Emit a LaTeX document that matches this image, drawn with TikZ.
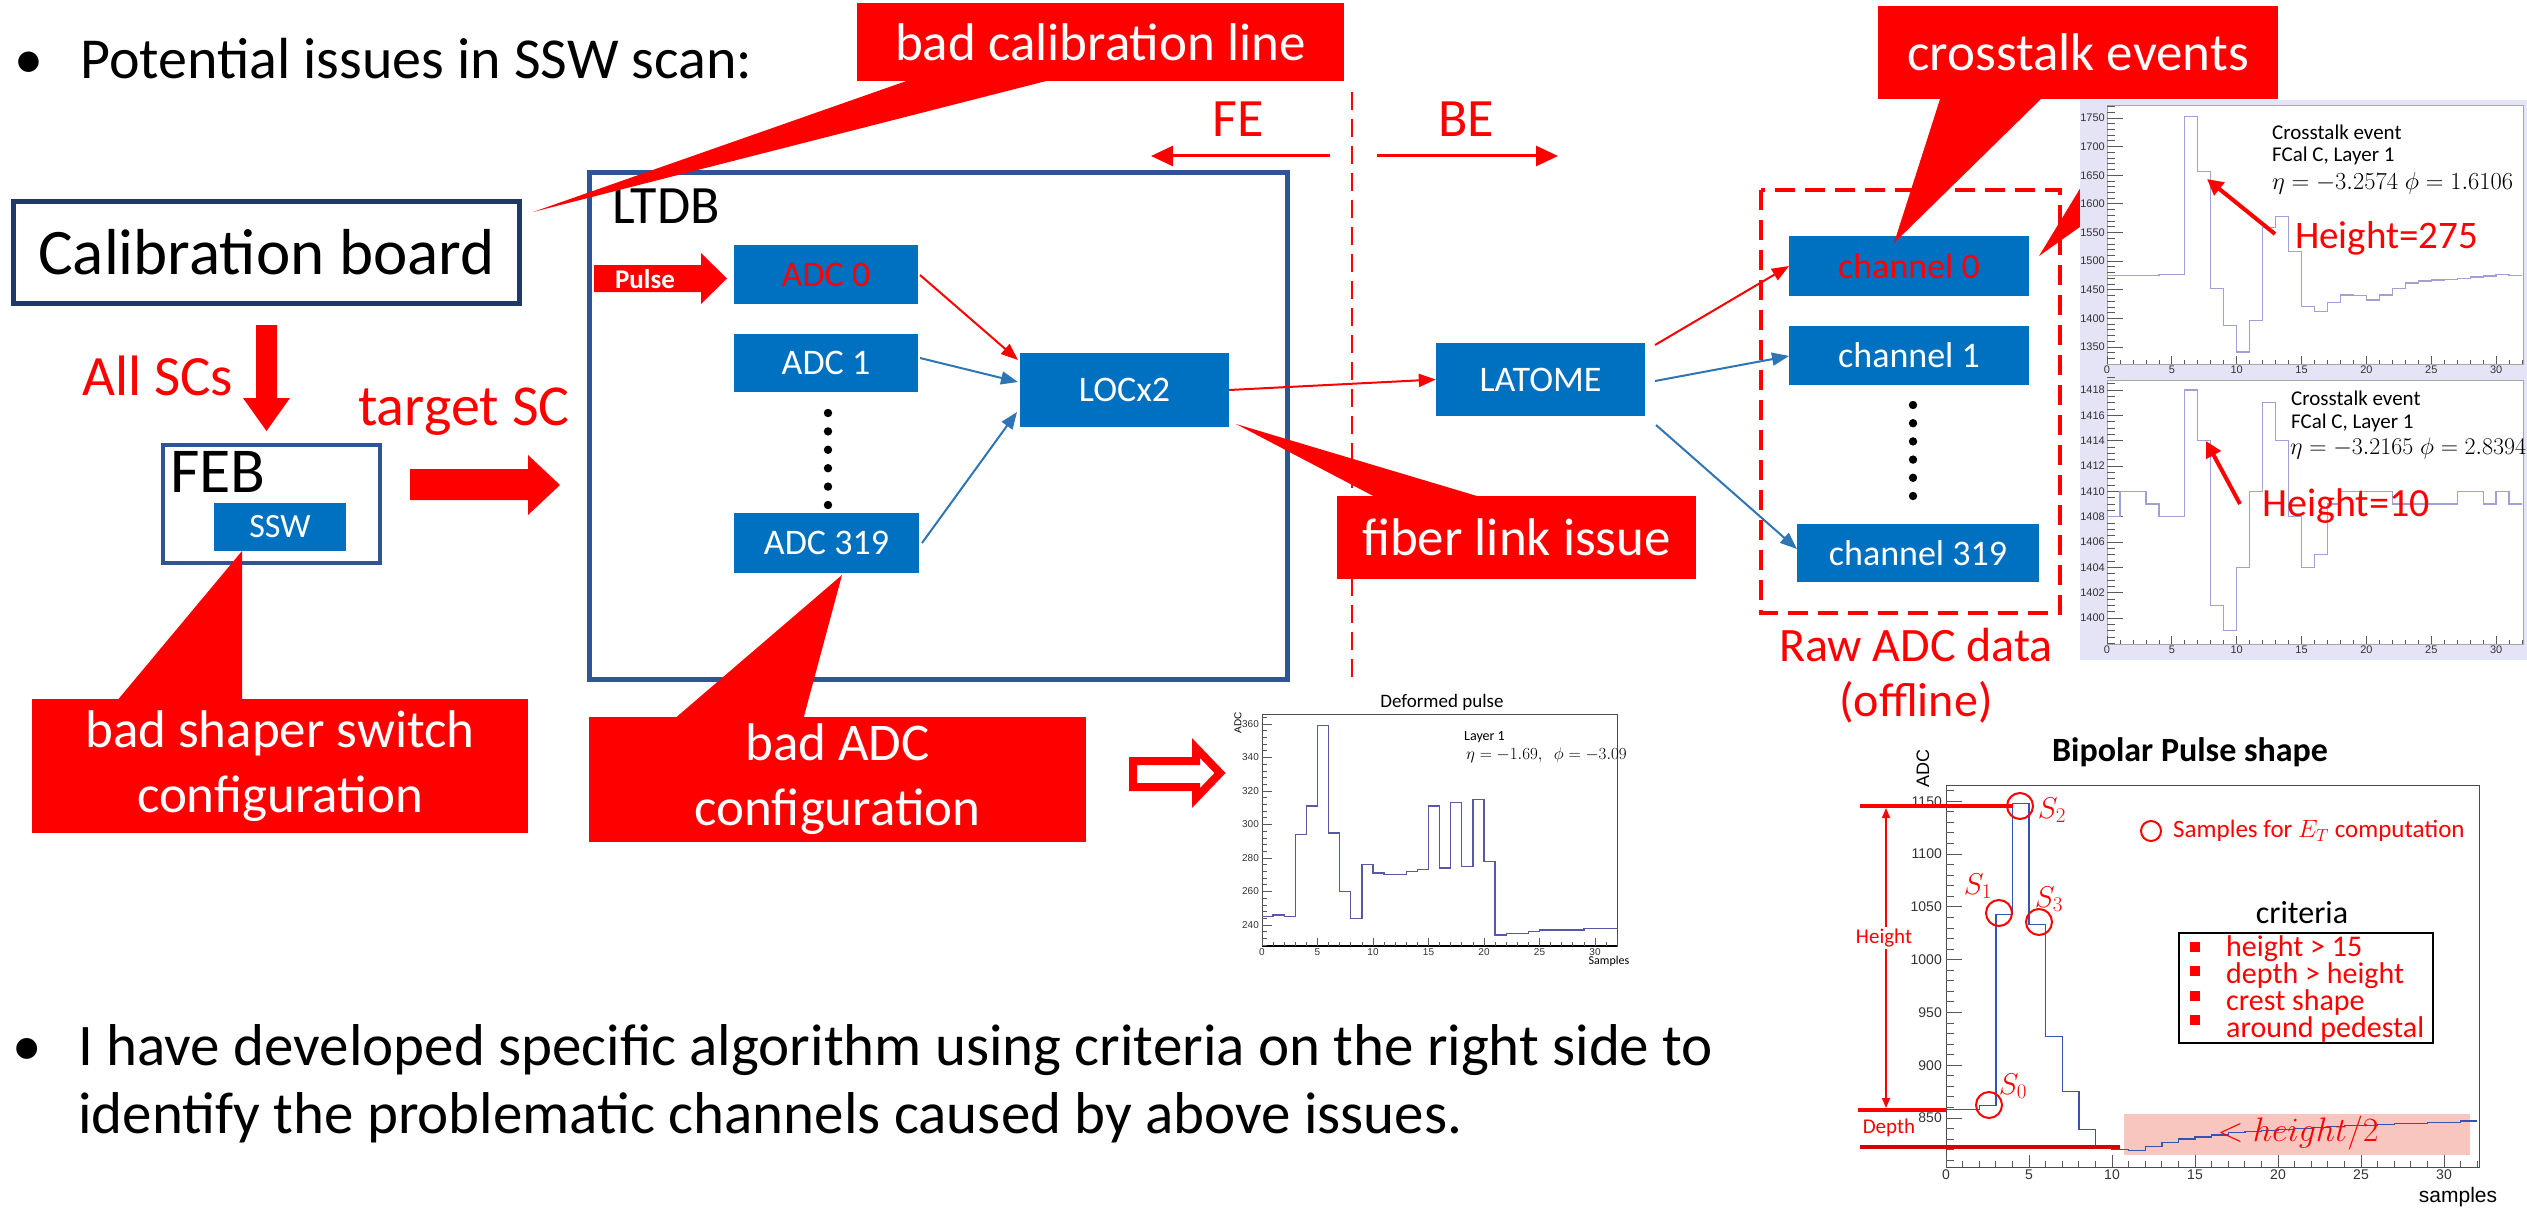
\RequirePackage{fix-cm}
\documentclass[tikz,border=0pt]{standalone}
\usepackage{fontspec}
\setmainfont{Carlito}
\newfontfamily\pf{Liberation Sans}
\usetikzlibrary{arrows.meta}
\definecolor{boxblue}{HTML}{0070C0}
\definecolor{navyb}{HTML}{1F3864}
\definecolor{frameblue}{HTML}{2F5597}
\definecolor{arrblue}{HTML}{2E75B6}
\definecolor{lav}{HTML}{E4E4F6}
\definecolor{histc}{HTML}{A0A0D4}
\definecolor{histd}{HTML}{5858A8}
\definecolor{histb}{HTML}{3355B0}
\definecolor{pinkbg}{HTML}{F8C6BE}
\newcommand\fsz[1]{\fontsize{#1}{#1}\selectfont}
\tikzset{
 bbox/.style={fill=boxblue, text=white, inner sep=0pt, font=\fsz{36}},
 callout/.style={fill=red, text=white, inner sep=0pt, align=center, font=\fsz{53}},
 rarr/.style={draw=red, line width=2pt, -{Triangle[length=17pt,width=13pt]}},
 barr/.style={draw=arrblue, line width=2pt, -{Triangle[length=17pt,width=13pt]}},
 tk/.style={draw=black!65, line width=0.8pt},
 ylab/.style={anchor=east, inner sep=1pt, text=black!80},
 xlab/.style={anchor=north, inner sep=1pt, text=black!80},
 redtxt/.style={text=red, inner sep=0pt},
 plaintxt/.style={inner sep=0pt},
}
\begin{document}
\begin{tikzpicture}[x=1pt,y=-1pt]
\useasboundingbox[fill=white] (0,0) rectangle (2527,1212);

% ---------- bullet texts ----------
\node[plaintxt, anchor=base west, font=\fsz{58}] (bul1) at (14,79) {•};
\node[plaintxt, anchor=base west, font=\fsz{58}] (txt1) at (80,79) {Potential issues in SSW scan:};
\node[plaintxt, anchor=base west, font=\fsz{59}] (bul2) at (12,1065) {•};
\node[plaintxt, anchor=base west, font=\fsz{59}] (txt2) at (78,1065) {I have developed specific algorithm using criteria on the right side to};
\node[plaintxt, anchor=base west, font=\fsz{59}] (txt3) at (78,1133) {identify the problematic channels caused by above issues.};

% ---------- left part ----------
\node[draw=navyb, line width=5pt, minimum width=506pt, minimum height=102pt, inner sep=0pt, font=\fsz{65}] (cal) at (266.5,252.5) {Calibration board};
\node[redtxt, anchor=base west, font=\fsz{57}] (allsc) at (82,395) {All SCs};
\fill[red] (256,325) -- (277,325) -- (277,398) -- (290,398) -- (266.5,431) -- (243,398) -- (256,398) -- cycle;
\node[redtxt, anchor=base west, font=\fsz{58}] (tsc) at (358,425) {target SC};
\node[draw=frameblue, line width=4pt, minimum width=217pt, minimum height=118pt, inner sep=0pt] (feb) at (271.5,504) {};
\node[plaintxt, anchor=base west, font=\fsz{64}] (febl) at (170,492) {FEB};
\node[bbox, minimum width=132pt, minimum height=48pt, font=\fsz{34}] (ssw) at (280,527) {SSW};
\fill[red] (410,469) -- (528,469) -- (528,455) -- (560,485) -- (528,515) -- (528,500) -- (410,500) -- cycle;

% ---------- LTDB ----------
\node[draw=frameblue, line width=5pt, minimum width=698pt, minimum height=507pt, inner sep=0pt] (ltdb) at (938.5,426) {};
\node[plaintxt, anchor=base west, font=\fsz{54}] (ltdbl) at (612,223) {LTDB};
\fill[red] (594,265) -- (701,265) -- (701,253) -- (727,278.5) -- (701,304) -- (701,292) -- (594,292) -- cycle;
\node[plaintxt, text=white, font=\bfseries\fsz{27}] (pulse) at (645,279) {Pulse};
\node[bbox, minimum width=184pt, minimum height=59pt, text=red] (adc0) at (826,274.5) {ADC 0};
\node[bbox, minimum width=184pt, minimum height=58pt] (adc1) at (826,363) {ADC 1};
\node[bbox, minimum width=185pt, minimum height=60pt] (adc319) at (826.5,543) {ADC 319};
\foreach \i in {0,...,5} \fill (828,{413+\i*18.4}) circle (4.2);
\node[bbox, minimum width=209pt, minimum height=74pt] (locx) at (1124.5,390) {LOCx2};
\draw[rarr] (920,275) -- (1018,360);
\draw[barr] (920,358) -- (1018,382);
\draw[barr] (922,543) -- (1017,412);

% ---------- FE / BE ----------
\draw[red, line width=2.5pt, dash pattern=on 18pt off 9pt] (1352,92) -- (1352,686);
\node[redtxt, anchor=base west, font=\fsz{54}] (fe) at (1212,137) {FE};
\node[redtxt, anchor=base west, font=\fsz{54}] (be) at (1438,137) {BE};
\draw[red, line width=3pt, -{Triangle[length=22pt,width=20pt]}] (1330,156) -- (1151,156);
\draw[red, line width=3pt, -{Triangle[length=22pt,width=20pt]}] (1377,156) -- (1558,156);

% ---------- BE part ----------
\node[bbox, minimum width=209pt, minimum height=73pt] (latome) at (1540.5,379.5) {LATOME};
\draw[rarr] (locx.east) -- (latome.west);
\draw[red, line width=4pt, dash pattern=on 20pt off 10pt] (1761,190) rectangle (2060,613);
\node[bbox, minimum width=240pt, minimum height=60pt, text=red] (ch0) at (1909,266) {channel 0};
\node[bbox, minimum width=240pt, minimum height=59pt] (ch1) at (1909,355.5) {channel 1};
\node[bbox, minimum width=242pt, minimum height=58pt] (ch319) at (1918,553) {channel 319};
\foreach \i in {0,...,5} \fill (1913,{405+\i*18.2}) circle (4.2);
\draw[rarr] (1655,345) -- (1789,266);
\draw[barr] (1655,381) -- (1789,356);
\draw[barr] (1656,425) -- (1797,549);
\node[redtxt, anchor=base, font=\fsz{48}] (raw1) at (1916,661) {Raw ADC data};
\node[redtxt, anchor=base, font=\fsz{48}] (raw2) at (1916,716) {(offline)};

% ---------- callouts ----------
\node[callout, minimum width=487pt, minimum height=78pt] (cline) at (1100.5,42) {bad calibration line};
\fill[red] (533,212) -- (915,78) -- (1058,78) -- cycle;
\node[callout, minimum width=400pt, minimum height=93pt] (xtalk) at (2078,52.5) {crosstalk events};
\fill[red] (1894,243) -- (1941,96) -- (2044,96) -- cycle;
\node[callout, minimum width=359pt, minimum height=83pt] (fiber) at (1516.5,537.5) {fiber link issue};
\fill[red] (1236,424) -- (1487,499) -- (1379,499) -- cycle;
\node[callout, minimum width=496pt, minimum height=134pt, font=\fontsize{53}{65}\selectfont] (shaper) at (280,766) {bad shaper switch\\configuration};
\fill[red] (242,551) -- (116,702) -- (242,702) -- cycle;
\node[callout, minimum width=497pt, minimum height=125pt, font=\fontsize{53}{65}\selectfont] (adccfg) at (837.5,779.5) {bad ADC\\configuration};
\fill[red] (842,575) -- (673,720) -- (803,720) -- cycle;
\fill[red] (2039,256) -- (2084,182) -- (2084,224) -- cycle;

% hollow arrow
\draw[red, line width=8pt, line join=miter] (1133,761) -- (1196,761) -- (1196,748) -- (1220,773) -- (1196,798) -- (1196,787) -- (1133,787) -- cycle;

% ---------- crosstalk plots ----------
\fill[lav] (2080,100) rectangle (2527,660);
\fill[white] (2107,106) rectangle (2523,364);
\fill[white] (2107,380) rectangle (2523,644);
\draw[black!35, line width=1pt] (2107,106) rectangle (2523,364);
\draw[black!35, line width=1pt] (2107,380) rectangle (2523,644);
% top ticks
\foreach \v in {1330,1340,...,1770} \draw[tk] (2107,{375.6-0.5725*(\v-1300)}) -- ++(8,0);
\foreach \v in {1350,1400,...,1750} {\draw[tk] (2107,{375.6-0.5725*(\v-1300)}) -- ++(16,0);
  \node[ylab, font=\pf\fsz{11}] at (2106,{375.6-0.5725*(\v-1300)}) {\v};}
\foreach \s in {0,...,32} \draw[tk] ({2107+12.97*\s},364) -- ++(0,-4);
\foreach \s in {0,5,...,30} {\draw[tk] ({2107+12.97*\s},364) -- ++(0,-8);
  \node[xlab, font=\pf\fsz{11}] at ({2107+12.97*\s},365) {\s};}
% bottom ticks
\foreach \v in {1398,1398.5,...,1419} \draw[tk] (2107,{618.1-12.67*(\v-1400)}) -- ++(8,0);
\foreach \v in {1400,1402,...,1418} {\draw[tk] (2107,{618.1-12.67*(\v-1400)}) -- ++(16,0);
  \node[ylab, font=\pf\fsz{11}] at (2106,{618.1-12.67*(\v-1400)}) {\v};}
\foreach \s in {0,...,32} \draw[tk] ({2107+12.97*\s},644) -- ++(0,-4);
\foreach \s in {0,5,...,30} {\draw[tk] ({2107+12.97*\s},644) -- ++(0,-8);
  \node[xlab, font=\pf\fsz{11}] at ({2107+12.97*\s},645) {\s};}
\begin{scope}[shift={(2107pt,-375.6pt)}, x=12.97pt, y=0.5725pt]
\draw[histc, line width=1.3pt] plot[const plot] coordinates {(0,175) (1,175) (2,175) (3,175) (4,176) (5,176) (6,452) (7,357) (8,152) (9,88) (10,41) (11,96) (12,259) (13,278) (14,217) (15,121) (16,112) (17,128) (18,141) (19,140) (20,132) (21,141) (22,152) (23,162) (24,165) (25,167) (26,168) (27,170) (28,172) (29,174) (30,176) (31,175) (32,175)};
\end{scope}
\begin{scope}[shift={(2107pt,-618.1pt)}, x=12.97pt, y=12.67pt]
\draw[histc, line width=1.3pt] plot[const plot] coordinates {(0,8) (1,10) (2,10) (3,9) (4,8) (5,8) (6,18) (7,14) (8,1) (9,-1) (10,4) (11,10) (12,17) (13,14) (14,8) (15,4) (16,5) (17,9) (18,10) (19,10) (20,10) (21,10) (22,9) (23,9) (24,9) (25,9) (26,9) (27,10) (28,10) (29,9) (30,10) (31,9) (32,9)};
\end{scope}
\node[plaintxt, anchor=west, font=\fsz{21}] (x1a) at (2272,132) {Crosstalk event};
\node[plaintxt, anchor=west, font=\fsz{21}] (x1b) at (2272,156) {FCal C, Layer 1};
\node[plaintxt, anchor=west, font=\fsz{24.5}] (x1c) at (2272,183) {$\eta = -3.2574\;\phi = 1.6106$};
\node[redtxt, anchor=base west, font=\fsz{39}] (h275) at (2295,248) {Height=275};
\draw[red, line width=4pt, -{Triangle[length=16pt,width=16pt]}] (2275,234) -- (2207,179);
\node[plaintxt, anchor=west, font=\fsz{21}] (x2a) at (2291,398) {Crosstalk event};
\node[plaintxt, anchor=west, font=\fsz{21}] (x2b) at (2291,423) {FCal C, Layer 1};
\node[plaintxt, anchor=west, font=\fsz{24}] (x2c) at (2290,448) {$\eta = -3.2165\;\phi = 2.8394$};
\node[redtxt, anchor=base west, font=\fsz{40}] (h10) at (2262,516) {Height=10};
\draw[red, line width=4pt, -{Triangle[length=16pt,width=16pt]}] (2240,504) -- (2206,441);

% ---------- deformed pulse ----------
\node[plaintxt, font=\fsz{19}] (dtitle) at (1442,702) {Deformed pulse};
\draw[black!70, line width=0.8pt] (1262,714) rectangle (1617,946);
\draw[black, line width=1.4pt] (1262,946) -- (1617,946);
\foreach \v in {228,232,...,364} \draw[tk] (1262,{992-1.675*(\v-200)}) -- ++(5,0);
\foreach \v in {240,260,...,360} {\draw[tk] (1262,{992-1.675*(\v-200)}) -- ++(10,0);
  \node[ylab, font=\pf\fsz{10}] at (1260,{992-1.675*(\v-200)}) {\v};}
\foreach \s in {0,...,32} \draw[tk] ({1262+11.1*\s},946) -- ++(0,-4);
\foreach \s in {0,5,...,30} {\draw[tk] ({1262+11.1*\s},946) -- ++(0,-8);
  \node[xlab, font=\pf\fsz{10}] at ({1262+11.1*\s},947) {\s};}
\node[plaintxt, rotate=90, font=\pf\fsz{10}] (dadc) at (1238,723) {ADC};
\node[plaintxt, font=\fsz{12}] (dsam) at (1609,961) {Samples};
\node[plaintxt, anchor=west, font=\fsz{14}] (dl1) at (1464,737) {Layer 1};
\node[plaintxt, anchor=west, font=\fsz{17}] (dl2) at (1466,755) {$\eta = -1.69,\;\ \phi = -3.09$};
\begin{scope}[shift={(1262pt,-992pt)}, x=11.1pt, y=1.675pt]
\draw[histd, line width=1.3pt] plot[const plot] coordinates {(0,45) (1,46) (2,45) (3,94) (4,111) (5,159) (6,95) (7,60) (8,44) (9,76) (10,71) (11,70) (12,70) (13,72) (14,73) (15,111) (16,74) (17,113) (18,75) (19,115) (20,78) (21,34) (22,35) (23,35) (24,36) (25,37) (26,37) (27,37) (28,37) (29,38) (30,38) (31,38) (32,38)};
\end{scope}

% ---------- bipolar pulse shape ----------
\node[plaintxt, font=\bfseries\fsz{34}] (btitle) at (2190,752) {Bipolar Pulse shape};
\node[plaintxt, rotate=90, font=\pf\fsz{18}] (badc) at (1923,768) {ADC};
\fill[pinkbg] (2124,1114) rectangle (2470,1155);
\draw[black!70, line width=1pt] (1946,785) rectangle (2479,1167);
\foreach \v in {810,820,...,1160} \draw[tk] (1946,{1170.8-1.056*(\v-800)}) -- ++(8,0);
\foreach \v in {850,900,...,1150} {\draw[tk] (1946,{1170.8-1.056*(\v-800)}) -- ++(16,0);
  \node[ylab, font=\pf\fsz{14}] at (1943,{1170.8-1.056*(\v-800)}) {\v};}
\foreach \s in {0,...,32} \draw[tk] ({1946+16.6*\s},1167) -- ++(0,-6);
\foreach \s in {0,5,...,30} {\draw[tk] ({1946+16.6*\s},1167) -- ++(0,-12);
  \node[xlab, font=\pf\fsz{14}] at ({1946+16.6*\s},1169) {\s};}
\node[plaintxt, font=\pf\fsz{21}] (bsam) at (2458,1197) {samples};
\begin{scope}[shift={(1946pt,-1170.8pt)}, x=16.6pt, y=1.056pt]
\draw[histb, line width=1.4pt] plot[const plot] coordinates {(0,58) (1,58) (2,62) (3,243) (4,348) (5,233) (6,127) (7,75) (8,39) (9,21) (10,20) (11,19) (12,23) (13,27) (14,30) (15,32) (16,34) (17,36) (18,37) (19,38) (20,39) (21,40) (22,41) (23,42) (24,43) (25,43) (26,44) (27,45) (28,45) (29,46) (30,46) (31,47) (32,47)};
\end{scope}
\draw[red, line width=4pt] (1860,806) -- (2013,806);
\draw[red, line width=4pt] (1858,1110) -- (1946,1110);
\draw[red!85!black, line width=4pt] (1860,1147) -- (2120,1147);
\draw[red, line width=1.5pt, {Triangle[length=10pt,width=8pt]}-{Triangle[length=10pt,width=8pt]}] (1886,808) -- (1886,1108);
\node[redtxt, fill=white, inner sep=2pt, font=\fsz{21}] (hgt) at (1884,938) {Height};
\node[redtxt, font=\fsz{21}] (dep) at (1889,1128) {Depth};
\foreach \p in {(2020,806),(1999,913),(2039,922),(1989,1105)} \draw[red, line width=2pt] \p circle (13);
\node[redtxt, font=\fsz{30}] (s2) at (2052,810) {$S_2$};
\node[redtxt, font=\fsz{30}] (s1) at (1978,886) {$S_1$};
\node[redtxt, font=\fsz{30}] (s3) at (2049,899) {$S_3$};
\node[redtxt, font=\fsz{30}] (s0) at (2013,1086) {$S_0$};
\draw[red, line width=2pt] (2151,831) circle (10);
\node[redtxt, anchor=west, font=\fsz{25}] (samp) at (2173,831) {Samples for $E_T$ computation};
\node[plaintxt, font=\fsz{32}] (crit) at (2302,913) {criteria};
\draw[black, line width=2.5pt] (2179,933) rectangle (2433,1043);
\foreach \y in {947,971,996,1020} \fill[red] (2190,{\y-5}) rectangle (2200,{\y+5});
\node[redtxt, anchor=west, align=left, font=\fontsize{30}{24.4}\selectfont] (critlist) at (2226,989) {height > 15\\depth > height\\crest shape\\around pedestal};
\node[redtxt, font=\fsz{34}] (half) at (2298,1133) {$<height/2$};
\end{tikzpicture}
\end{document}
